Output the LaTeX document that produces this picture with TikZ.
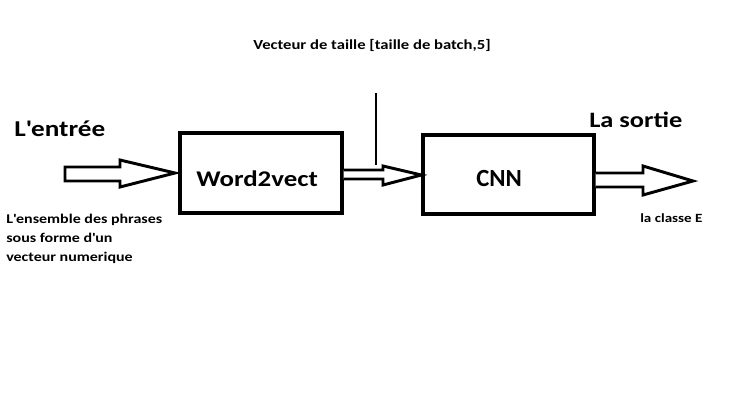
\documentclass[tikz,border=0pt]{standalone}
\usepackage{fontspec}
\setmainfont{Carlito}
\newfontfamily\widefont[FakeStretch=1.2]{Carlito}
\begin{document}
\begin{tikzpicture}[x=0.75pt,y=-0.75pt,
  boxstyle/.style={draw,line width=2.4pt,rectangle,inner sep=0pt},
  fatarrow/.style={draw,line width=2.2pt,line join=miter,fill=white},
  lbl/.style={anchor=base west,inner sep=0pt}]
\useasboundingbox (0,0) rectangle (745,404);
% boxes
\node[boxstyle,minimum width=162*0.75pt,minimum height=80*0.75pt] (w2v) at (261,173) {};
\node[boxstyle,minimum width=171*0.75pt,minimum height=79*0.75pt] (cnn) at (508.5,174.5) {};
% labels in boxes
\node[lbl,font=\widefont\bfseries\fontsize{16.8pt}{20pt}\selectfont] (w2vtxt) at (196,186) {Word2vect};
\node[lbl,font=\bfseries\fontsize{18.5pt}{22pt}\selectfont] (cnntxt) at (476,186) {CNN};
% input arrow
\coordinate (inStart) at (65,174);
\draw[fatarrow] (inStart) ++(0,-7) -- (120,167) -- (120,160) -- (175,173) -- (120,187) -- (120,181) -- (65,181) -- cycle;
% middle arrow
\draw[fatarrow] (w2v.east |- 0,170) -- (383,170) -- (383,166) -- (cnn.west |- 0,175) -- (383,185) -- (383,179) -- (w2v.east |- 0,179);
% output arrow
\coordinate (outEnd) at (693,181);
\draw[fatarrow] (cnn.east |- 0,173) -- (643,173) -- (643,166) -- (outEnd) -- (643,195) -- (643,187) -- (cnn.east |- 0,187);
% vertical line
\coordinate (vtop) at (376,93);
\coordinate (vbot) at (376,165);
\draw[line width=2.2pt] (vtop) -- (vbot);
% texts
\node[lbl,font=\widefont\bfseries\fontsize{10.4pt}{12pt}\selectfont] (top) at (253,49) {Vecteur de taille [taille de batch,5]};
\node[lbl,font=\widefont\bfseries\fontsize{17pt}{20pt}\selectfont] (entree) at (14,136) {L\textquotesingle entrée};
\node[lbl,font=\widefont\bfseries\fontsize{16.5pt}{20pt}\selectfont] (sortie) at (589,127) {La sortie};
\node[lbl,font=\widefont\bfseries\fontsize{9.4pt}{12pt}\selectfont] (classe) at (640,222) {la classe E};
\node[lbl,font=\widefont\bfseries\fontsize{10pt}{12pt}\selectfont] (ens1) at (6,223) {L\textquotesingle ensemble des phrases};
\node[lbl,font=\widefont\bfseries\fontsize{10pt}{12pt}\selectfont] (ens2) at (6,242) {sous forme d\textquotesingle un};
\node[lbl,font=\widefont\bfseries\fontsize{10pt}{12pt}\selectfont] (ens3) at (6,261) {vecteur numerique};
\end{tikzpicture}
\end{document}
